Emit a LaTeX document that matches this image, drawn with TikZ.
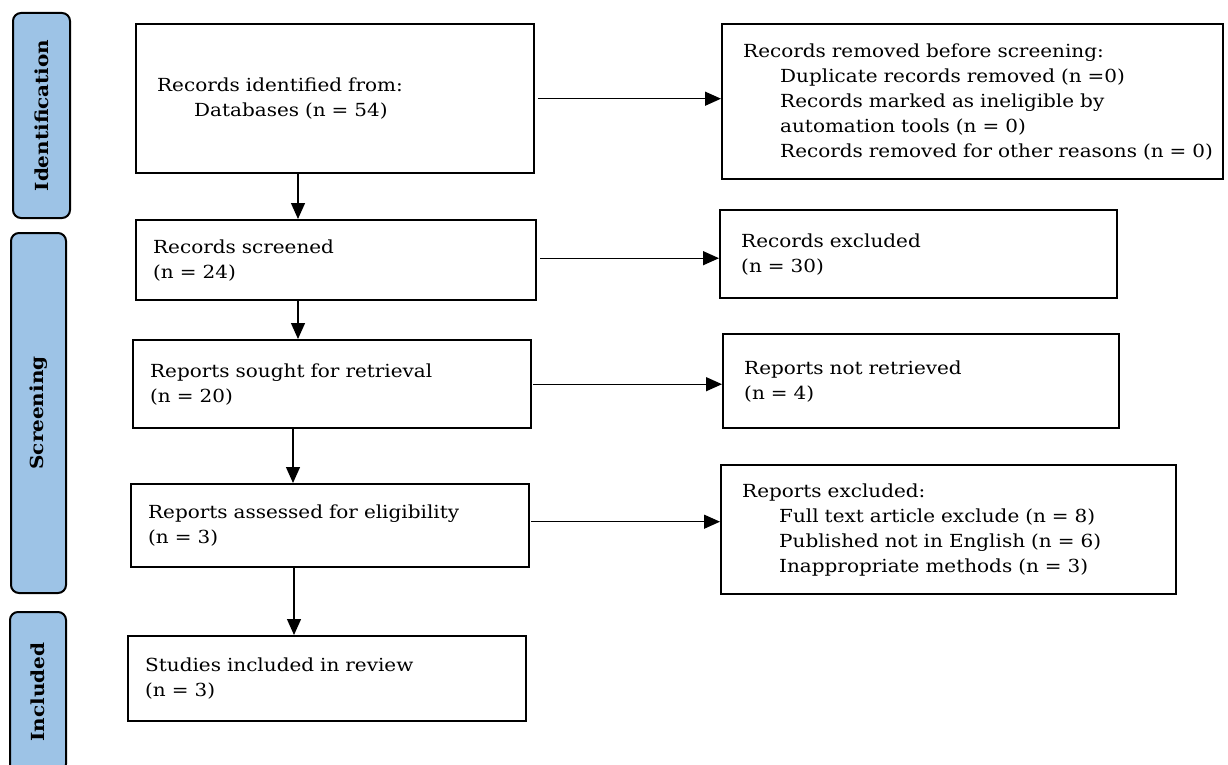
\documentclass[tikz,border=0pt]{standalone}
\usepackage{fontspec}
\setmainfont{DejaVu Serif}[FakeStretch=1.11]
\usetikzlibrary{arrows.meta}
\definecolor{barblue}{RGB}{157,195,230}
\begin{document}
\begin{tikzpicture}[x=1pt,y=-1pt,
  box/.style={draw=black, line width=2.4pt, fill=white, align=left, inner ysep=0pt,
    font=\fontsize{18}{25}\selectfont, anchor=north west},
  bar/.style={draw=black, line width=2pt, fill=barblue, rounded corners=8pt, rotate=90,
    inner sep=0pt, font=\bfseries\fontsize{18}{22}\selectfont},
  arr/.style={line width=1.3pt, -{Triangle[length=16pt,width=14pt]}}]
\useasboundingbox (0,0) rectangle (1228,765);

% side bars
\node[bar, minimum width=205pt, minimum height=57pt] (ident) at (41.5,115.5) {Identification};
\node[bar, minimum width=360pt, minimum height=55pt] (screen) at (38.5,413) {Screening};
\node[bar, minimum width=160pt, minimum height=56pt] (incl) at (38,692) {Included};

% main column
\node[box, inner xsep=21pt, text width=356pt, minimum height=149pt] (b1) at (135,23)
  {Records identified from:\\\hspace*{37pt}Databases (n = 54)};
\node[box, inner xsep=17pt, text width=366pt, minimum height=80pt] (b2) at (135,219)
  {Records screened\\(n = 24)};
\node[box, inner xsep=17pt, text width=364pt, minimum height=88pt] (b3) at (132,339)
  {Reports sought for retrieval\\(n = 20)};
\node[box, inner xsep=17pt, text width=364pt, minimum height=83pt] (b4) at (130,483)
  {Reports assessed for eligibility\\(n = 3)};
\node[box, inner xsep=17pt, text width=364pt, minimum height=85pt] (b5) at (127,635)
  {Studies included in review\\(n = 3)};

% right column
\node[box, inner xsep=21pt, text width=459pt, minimum height=155pt] (rem) at (721,23)
  {Records removed before screening:\\
   \hspace*{37pt}Duplicate records removed (n =0)\\
   \hspace*{37pt}Records marked as ineligible by\\
   \hspace*{37pt}automation tools (n = 0)\\
   \hspace*{37pt}\rlap{Records removed for other reasons (n = 0)}};
\node[box, inner xsep=21pt, text width=355pt, minimum height=88pt] (exc) at (719,209)
  {Records excluded\\(n = 30)};
\node[box, inner xsep=21pt, text width=354pt, minimum height=94pt] (nr) at (722,333)
  {Reports not retrieved\\(n = 4)};
\node[box, inner xsep=21pt, text width=413pt, minimum height=129pt] (rex) at (720,464)
  {Reports excluded:\\
   \hspace*{37pt}Full text article exclude (n = 8)\\
   \hspace*{37pt}Published not in English (n = 6)\\
   \hspace*{37pt}Inappropriate methods (n = 3)};

% vertical connectors
\coordinate (v1) at (298,0);
\coordinate (v2) at (298,0);
\coordinate (v3) at (293,0);
\coordinate (v4) at (294,0);
\draw[arr] (b1.south -| v1) -- (b2.north -| v1);
\draw[arr] (b2.south -| v2) -- (b3.north -| v2);
\draw[arr] (b3.south -| v3) -- (b4.north -| v3);
\draw[arr] (b4.south -| v4) -- (b5.north -| v4);

% horizontal connectors
\draw[arr] ([xshift=3pt]b1.east) -- (b1.east -| rem.west);
\draw[arr] ([xshift=3pt,yshift=2pt]b2.east) -- ([yshift=2pt]b2.east -| exc.west);
\draw[arr] ([xshift=1pt]b3.east) -- (b3.east -| nr.west);
\draw[arr] ([xshift=1pt,yshift=4pt]b4.east) -- ([yshift=4pt]b4.east -| rex.west);
\end{tikzpicture}
\end{document}
